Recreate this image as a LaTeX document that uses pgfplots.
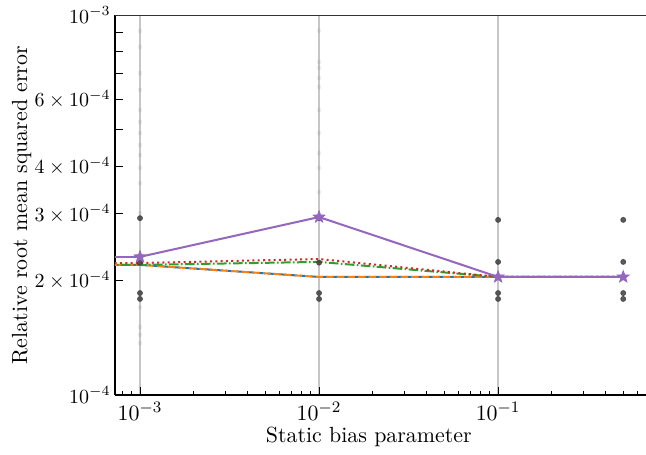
\documentclass[11pt,border=0pt]{standalone}
\usepackage{pgfplots}
\usetikzlibrary{calc}
\pgfplotsset{compat=1.18}
\definecolor{tabblue}{HTML}{1F77B4}
\definecolor{taborange}{HTML}{FF7F0E}
\definecolor{tabgreen}{HTML}{2CA02C}
\definecolor{tabred}{HTML}{D62728}
\definecolor{tabpurple}{HTML}{9467BD}
\pgfdeclareplotmark{fstar}{%
  \pgfpathmoveto{\pgfqpointpolar{90}{\pgfplotmarksize}}%
  \pgfpathlineto{\pgfqpointpolar{126}{0.42\pgfplotmarksize}}%
  \pgfpathlineto{\pgfqpointpolar{162}{\pgfplotmarksize}}%
  \pgfpathlineto{\pgfqpointpolar{198}{0.42\pgfplotmarksize}}%
  \pgfpathlineto{\pgfqpointpolar{234}{\pgfplotmarksize}}%
  \pgfpathlineto{\pgfqpointpolar{270}{0.42\pgfplotmarksize}}%
  \pgfpathlineto{\pgfqpointpolar{306}{\pgfplotmarksize}}%
  \pgfpathlineto{\pgfqpointpolar{342}{0.42\pgfplotmarksize}}%
  \pgfpathlineto{\pgfqpointpolar{18}{\pgfplotmarksize}}%
  \pgfpathlineto{\pgfqpointpolar{54}{0.42\pgfplotmarksize}}%
  \pgfpathclose
  \pgfusepathqfillstroke}
\begin{document}
\begin{tikzpicture}
\begin{axis}[
  name=ax,
  scale only axis,
  width=265.5pt, height=190pt,
  xmode=log, ymode=log,
  xmin=7.25e-4, xmax=0.67,
  ymin=1e-4, ymax=1e-3,
  axis x line*=bottom, axis y line*=left,
  axis line style={-, black, line width=0.6pt},
  tick align=inside,
  xtick={1e-3,1e-2,1e-1},
  xticklabels={$10^{-3}$,$10^{-2}$,$10^{-1}$},
  minor xtick={8e-4,9e-4,2e-3,3e-3,4e-3,5e-3,6e-3,7e-3,8e-3,9e-3,2e-2,3e-2,4e-2,5e-2,6e-2,7e-2,8e-2,9e-2,0.2,0.3,0.4,0.5,0.6},
  ytick={1e-4,2e-4,3e-4,4e-4,5e-4,6e-4,7e-4,8e-4,9e-4,1e-3},
  yticklabels={$10^{-4}$,$2\times10^{-4}$,$3\times10^{-4}$,$4\times10^{-4}$,,$6\times10^{-4}$,,,,$10^{-3}$},
  yminorticks=false,
  major tick length=4pt, minor tick length=2pt,
  every tick/.style={black, line width=0.5pt},
  xticklabel style={anchor=north, inner sep=0pt, yshift=-3.6pt},
  yticklabel style={anchor=east, inner sep=0pt, xshift=-2pt, font=\small},
  xmajorgrids, grid style={gray!45, line width=0.75pt},
  xlabel={Static bias parameter},
  ylabel={Relative root mean squared error},
  xlabel style={at={(axis description cs:0.478,-0.11)}, anchor=center},
  ylabel style={at={(axis description cs:-0.176,0.5)}, anchor=center},
  clip=true,
]
% lines
\addplot[tabblue, line width=1pt, dash pattern=on 3.7pt off 1.6pt] coordinates {(1e-4,2.2e-4) (1e-3,2.2e-4) (1e-2,2.045e-4) (1e-1,2.045e-4) (0.5,2.045e-4)};
\addplot[taborange, line width=1pt, dash pattern=on 3.7pt off 1.6pt, dash phase=2.6pt] coordinates {(1e-4,2.2e-4) (1e-3,2.2e-4) (1e-2,2.045e-4) (1e-1,2.045e-4) (0.5,2.045e-4)};
\addplot[tabgreen, line width=1pt, dash pattern=on 4.8pt off 1.2pt on 0.8pt off 1.2pt] coordinates {(1e-4,2.2e-4) (1e-3,2.2e-4) (1e-2,2.24e-4) (1e-1,2.045e-4) (0.5,2.045e-4)};
\addplot[tabred, line width=1pt, dash pattern=on 1pt off 1.65pt] coordinates {(1e-4,2.225e-4) (1e-3,2.225e-4) (1e-2,2.28e-4) (1e-1,2.045e-4) (0.5,2.045e-4)};
% faint scatter
\addplot[only marks, mark=*, mark size=1.2pt, color=black, opacity=0.06, draw opacity=0] coordinates {
 (1e-3,9.08e-4) (1e-3,8.24e-4) (1e-3,7.04e-4) (1e-3,6.35e-4) (1e-3,5.62e-4) (1e-3,5.23e-4) (1e-3,4.89e-4) (1e-3,4.55e-4) (1e-3,4.28e-4) (1e-3,3.96e-4) (1e-3,3.61e-4) (1e-3,3.01e-4) (1e-3,1.70e-4) (1e-3,1.51e-4) (1e-3,1.44e-4) (1e-3,1.37e-4)
 (1e-2,9.1e-4) (1e-2,7.52e-4) (1e-2,7.26e-4) (1e-2,6.83e-4) (1e-2,6.47e-4) (1e-2,5.62e-4) (1e-2,4.89e-4) (1e-2,4.33e-4) (1e-2,3.96e-4) (1e-2,3.42e-4)};
% dark scatter
\addplot[only marks, mark=*, mark size=1.25pt, color=black!75, opacity=0.85] coordinates {
 (1e-3,2.92e-4) (1e-3,2.23e-4) (1e-3,1.855e-4) (1e-3,1.79e-4)
 (1e-2,2.92e-4) (1e-2,2.23e-4) (1e-2,1.855e-4) (1e-2,1.79e-4)
 (1e-1,2.89e-4) (1e-1,2.24e-4) (1e-1,1.855e-4) (1e-1,1.79e-4)
 (0.5,2.89e-4) (0.5,2.24e-4) (0.5,1.855e-4) (0.5,1.79e-4)};
\addplot[tabpurple, line width=1pt, mark=fstar, mark size=3.2pt, mark options={solid, fill=tabpurple, line width=0.3pt}] coordinates {(1e-3,2.31e-4) (1e-2,2.94e-4) (1e-1,2.045e-4) (0.5,2.045e-4)};
\addplot[tabpurple, line width=1pt, forget plot] coordinates {(1e-4,2.31e-4) (1e-3,2.31e-4)};
\draw[black!80, line width=1pt] (rel axis cs:0,1) -- (rel axis cs:1,1);
\end{axis}
\pgfresetboundingbox
\useasboundingbox ($(ax.south west)+(-57.5pt,-30pt)$) rectangle ($(ax.north east)+(0pt,7.5pt)$);
\end{tikzpicture}
\end{document}
